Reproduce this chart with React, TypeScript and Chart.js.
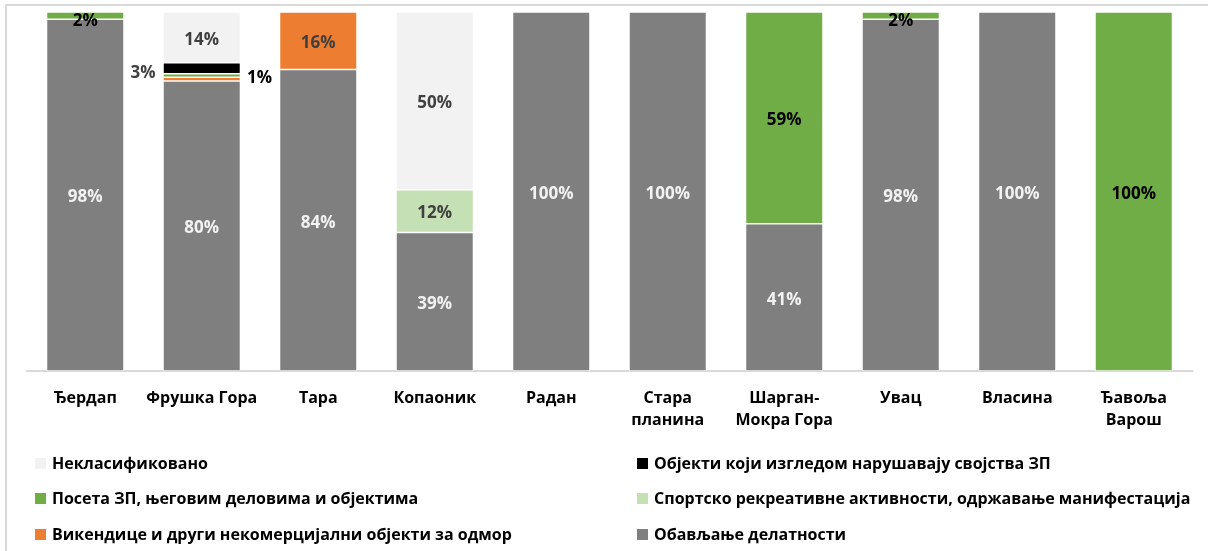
import React, { useEffect, useRef } from "react";
import { Chart, registerables } from "chart.js";

Chart.register(...registerables);

const categories: string[][] = [
  ["Ђердап"],
  ["Фрушка Гора"],
  ["Тара"],
  ["Копаоник"],
  ["Радан"],
  ["Стара", "планина"],
  ["Шарган-", "Мокра Гора"],
  ["Увац"],
  ["Власина"],
  ["Ђавоља", "Варош"],
];

// raw percentages per series (stack order bottom → top)
const obavljanje = [98, 80, 84, 39, 100, 100, 41, 98, 100, 0];
const vikendice = [0, 1, 16, 0, 0, 0, 0, 0, 0, 0];
const sportsko = [0, 0, 0, 12, 0, 0, 0, 0, 0, 0];
const poseta = [2, 1, 0, 0, 0, 0, 59, 2, 0, 100];
const objekti = [0, 3, 0, 0, 0, 0, 0, 0, 0, 0];
const neklasifikovano = [0, 14, 0, 50, 0, 0, 0, 0, 0, 0];

const seriesNames = [
  "Обављање делатности",
  "Викендице и други некомерцијални објекти за одмор",
  "Спортско рекреативне активности, одржавање манифестација",
  "Посета ЗП, његовим деловима и објектима",
  "Објекти који изгледом нарушавају својства ЗП",
  "Некласификовано",
];
const seriesValues = [obavljanje, vikendice, sportsko, poseta, objekti, neklasifikovano];
const seriesColors = ["#7f7f7f", "#ed7d31", "#c5e0b4", "#70ad47", "#000000", "#f2f2f2"];
const labelColors = ["#f2f2f2", "#404040", "#404040", "#000000", "#404040", "#404040"];

// labels placed outside the bar (category index, series index, side); hidden labels
const outsideLabels: [number, number, string][] = [
  [1, 4, "left"],
  [1, 3, "right"],
];
const hiddenLabels: [number, number][] = [[1, 1]];

// legend order (series indices), laid out in two columns
const legendOrder = [5, 4, 3, 2, 1, 0];

const FONT = "'Open Sans', 'Noto Sans', sans-serif";

const totals = categories.map((_, ci) => seriesValues.reduce((s, arr) => s + arr[ci], 0));

const labelPlugin = {
  id: "segLabels",
  afterDatasetsDraw(chart: any) {
    const ctx = chart.ctx;
    const area = chart.chartArea;
    ctx.save();
    ctx.font = `bold 17px ${FONT}`;
    ctx.textAlign = "center";
    ctx.textBaseline = "middle";
    chart.data.datasets.forEach((ds: any, si: number) => {
      const meta = chart.getDatasetMeta(si);
      meta.data.forEach((el: any, ci: number) => {
        const raw = ds.rawValues[ci];
        if (!raw) return;
        if (hiddenLabels.some(([c, s]) => c === ci && s === si)) return;
        const text = raw + "%";
        const props = el.getProps(["x", "y", "base", "width"], true);
        let x = props.x;
        let y = (props.y + props.base) / 2 + 2.5;
        const out = outsideLabels.find(([c, s]) => c === ci && s === si);
        if (out) {
          if (out[2] === "left") {
            x = props.x - props.width / 2 - 20;
            y += 2;
          } else {
            x = props.x + props.width / 2 + 19;
            y += 0;
          }
        } else {
          y = Math.max(y, area.top + 9);
        }
        ctx.fillStyle = labelColors[si];
        ctx.fillText(text, x, y);
      });
    });
    ctx.restore();
  },
};

export default function App() {
  const ref = useRef<HTMLCanvasElement | null>(null);

  useEffect(() => {
    if (!ref.current) return;
    const chart = new Chart(ref.current, {
      type: "bar",
      data: {
        labels: categories,
        datasets: seriesValues.map((vals, si) => ({
          label: seriesNames[si],
          data: vals.map((v, ci) => (totals[ci] ? (v / totals[ci]) * 100 : 0)),
          rawValues: vals,
          backgroundColor: seriesColors[si],
          borderColor: "#ffffff",
          borderWidth: 0.75,
          borderSkipped: false,
          categoryPercentage: 1,
          barPercentage: 0.665,
        })) as any,
      },
      options: {
        responsive: false,
        animation: false,
        devicePixelRatio: 1,
        layout: { padding: { left: 27, right: 16, top: 12, bottom: 120 } },
        plugins: {
          legend: { display: false },
          tooltip: { enabled: false },
        },
        scales: {
          x: {
            stacked: true,
            grid: { display: false, drawTicks: false },
            border: { display: true, color: "#d9d9d9", width: 2 },
            ticks: {
              color: "#000000",
              font: { family: FONT, size: 16, weight: "bold", lineHeight: 1.4 },
              padding: 16,
              maxRotation: 0,
              autoSkip: false,
            },
            afterFit: (s: any) => {
              s.height = 60;
            },
          },
          y: {
            stacked: true,
            display: false,
            min: 0,
            max: 100,
          },
        },
      },
      plugins: [labelPlugin],
    });
    return () => chart.destroy();
  }, []);

  const rowTops = [463, 498, 534];

  return (
    <div
      style={{
        position: "absolute",
        left: 0,
        top: 0,
        width: 1208,
        height: 551,
        overflow: "hidden",
        background: "#ffffff",
      }}
    >
      <div
        style={{
          position: "absolute",
          left: 5,
          top: 4,
          width: 1400,
          height: 800,
          borderTop: "2px solid #d9d9d9",
          borderLeft: "2px solid #d9d9d9",
        }}
      />
      <canvas ref={ref} width={1208} height={551} style={{ position: "absolute", left: 0, top: 0, width: 1208, height: 551 }} />
      {legendOrder.map((si, k) => {
        const col = k % 2;
        const row = Math.floor(k / 2);
        return (
          <div
            key={si}
            style={{
              position: "absolute",
              left: col === 0 ? 35 : 637,
              top: rowTops[row] - 12,
              height: 24,
              display: "flex",
              alignItems: "center",
              whiteSpace: "nowrap",
              fontFamily: FONT,
              fontWeight: 700,
              fontSize: 16,
              color: "#000",
            }}
          >
            <span
              style={{
                display: "inline-block",
                width: 11,
                height: 11,
                background: seriesColors[si],
                marginRight: 6,
              }}
            />
            {seriesNames[si]}
          </div>
        );
      })}
    </div>
  );
}
